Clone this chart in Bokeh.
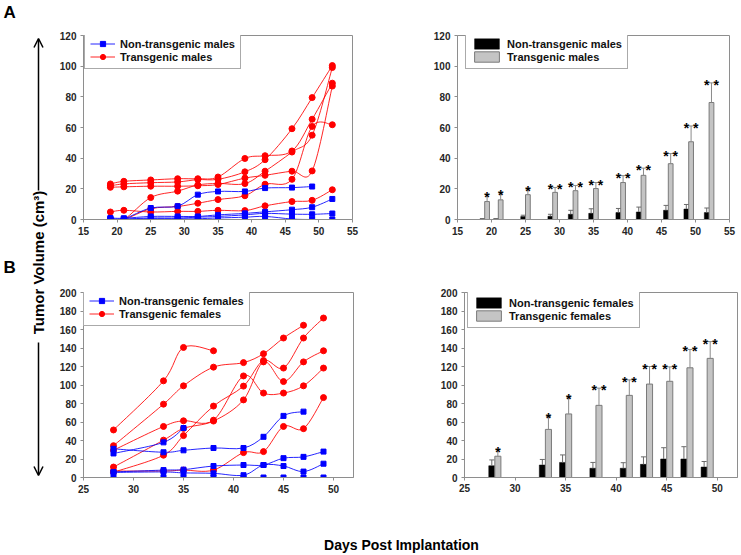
import math
from bokeh.plotting import figure
from bokeh.layouts import row, column
from bokeh.models import Range1d, Legend, LegendItem, Arrow, OpenHead, FixedTicker
from bokeh.embed import file_html
from bokeh.resources import INLINE
from bokeh.core.properties import value

FONT = "Liberation Sans"

# ---------------- data: males, individual tumours ----------------
male_days = [19, 21, 25, 29, 32, 35, 39, 42, 46, 49, 52]
male_tg_1 = [23.2, 24.9, 25.8, 26.6, 26.6, 27.7, 39.8, 41.6, 44.7, 65.4, 88.9]
male_tg_2 = [22.0, 23.2, 24.0, 24.5, 26.0, 26.2, 31.1, 39.0, 59.2, 79.5, 100.4]
male_tg_3 = [21.0, 21.3, 21.7, 21.7, 22.0, 22.8, 27.0, 28.8, 31.5, 31.7, 87.0]
male_tg_4 = [4.9, 6.0, 4.9, 5.3, 5.3, 6.0, 5.8, 8.9, 11.7, 12.5, 19.4]
male_tg_5 = [0.0, 0.0, 14.3, 18.5, 22.5, 23.5, 23.4, 31.5, 44.0, 55.0, 99.1]
male_tg_6 = [0.0, 0.0, 7.0, 8.5, 10.6, 13.0, 15.5, 23.0, 26.2, 60.7, 61.8]
male_nt_days_1 = [19, 21, 25, 29, 32, 35, 39, 42, 46, 49]
male_nt_1 = [0.5, 0.5, 7.5, 8.7, 16.2, 18.3, 18.3, 20.5, 20.8, 21.5]
male_nt_2 = [1.0, 0.8, 2.0, 2.0, 2.0, 3.0, 4.0, 5.0, 6.4, 8.0, 13.4]
male_nt_3 = [0.3, 0.3, 1.0, 1.0, 1.5, 2.0, 3.0, 4.0, 3.5, 3.4, 3.9]
male_nt_4 = [0.0, 0.0, 0.5, 0.5, 0.5, 1.0, 1.5, 2.0, 0.3, 0.0, 0.0]

# ---------------- data: males, group means ----------------
male_nt_mean = [0.4, 0.4, 1.9, 2.1, 3.4, 4.0, 4.5, 4.9, 6.0, 6.8, 4.5]
male_nt_err = [0.2, 0.2, 0.9, 1.3, 2.6, 3.0, 2.7, 3.2, 3.2, 3.0, 3.0]
male_tg_mean = [11.7, 12.8, 16.2, 17.7, 18.8, 20.2, 24.1, 28.8, 36.4, 50.7, 76.3]
male_tg_err = [4.5, 4.5, 3.6, 3.2, 3.4, 3.9, 4.5, 4.7, 6.6, 10.3, 12.8]
male_stars = ["*", "*", "*", "* *", "* *", "* *", "* *", "* *", "* *", "* *", "* *"]

# ---------------- data: females, individual tumours ----------------
fem_days = [28, 33, 35, 38, 41, 43, 45, 47, 49]
fem_tg_1 = [51.4, 104.5, 140.6, 137.0]
fem_tg_2 = [34.4, 79.3, 99.1, 119.3, 124.2, 133.8, 150.8, 164.6]
fem_tg_3 = [29.5, 55.2, 61.3, 62.0, 109.8, 91.3, 91.3, 99.1, 118.3]
fem_tg_4 = [11.3, 40.4, 53.1, 61.0, 83.9, 125.0, 103.7, 125.0, 137.0]
fem_tg_5 = [5.7, 24.1, 45.3, 77.2, 98.8, 126.5, 118.3, 150.8, 172.4]
fem_tg_6 = [7.0, 7.0, 8.0, 8.0, 26.9, 28.0, 55.2, 52.8, 86.4]
fem_nt_1 = [26.0, 38.0, 53.5]
fem_nt_2 = [31.0, 27.3, 29.4, 31.9, 31.9, 44.0, 66.6, 71.2]
fem_nt_3 = [6.0, 8.0, 8.5, 12.4, 13.5, 13.5, 20.9, 22.3, 28.0]
fem_nt_4 = [5.5, 6.0, 5.0, 4.5, 2.5, 13.5, 12.4, 6.4, 14.9]
fem_nt_5 = [0.0, 0.0, 0.0, 0.0, 0.0, 0.0, 0.0, 0.0, 0.0]

# ---------------- data: females, group means ----------------
fem_nt_mean = [12.7, 13.5, 16.3, 10.0, 10.0, 14.2, 20.0, 20.0, 11.3]
fem_nt_err = [6.3, 6.0, 8.1, 6.3, 6.0, 8.1, 12.2, 13.3, 6.0]
fem_tg_mean = [23.0, 52.0, 68.7, 78.0, 88.8, 101.0, 104.0, 118.6, 128.8]
fem_tg_err = [7.0, 14.0, 18.3, 18.6, 16.7, 19.0, 15.6, 19.8, 18.1]
fem_stars = ["*", "*", "*", "* *", "* *", "* *", "* *", "* *", "* *"]

# ---------------- axis ticks ----------------
male_xticks = [15, 20, 25, 30, 35, 40, 45, 50, 55]
male_yticks = [0, 20, 40, 60, 80, 100, 120]
fem_xticks = [25, 30, 35, 40, 45, 50]
fem_yticks = [0, 20, 40, 60, 80, 100, 120, 140, 160, 180, 200]

RED = "#ff0000"
BLUE = "#0000ff"
FRAME = "#8e8e8e"


def make_fig(w, h, bl, br, bt, bb, xr, yr, xt, yt):
    p = figure(width=w, height=h, x_range=Range1d(*xr), y_range=Range1d(*yr),
               toolbar_location=None, output_backend="svg",
               min_border_left=bl, min_border_right=br,
               min_border_top=bt, min_border_bottom=bb)
    p.xgrid.visible = False
    p.ygrid.visible = False
    p.outline_line_color = FRAME
    p.outline_line_width = 1
    p.background_fill_color = "white"
    p.border_fill_color = "white"
    p.xaxis.ticker = FixedTicker(ticks=xt)
    p.yaxis.ticker = FixedTicker(ticks=yt)
    for ax in (p.xaxis[0], p.yaxis[0]):
        ax.axis_line_color = FRAME
        ax.major_tick_line_color = FRAME
        ax.major_tick_in = 0
        ax.major_tick_out = 3
        ax.minor_tick_line_color = None
        ax.major_label_text_font = FONT
        ax.major_label_text_font_style = "bold"
        ax.major_label_text_font_size = "10px"
        ax.major_label_text_color = "#262626"
        ax.major_label_standoff = 4
    return p


def bez(xs, ys):
    n = len(xs)
    d = dict(x0=[], y0=[], x1=[], y1=[], cx0=[], cy0=[], cx1=[], cy1=[])
    for i in range(n - 1):
        xa, ya = (xs[i - 1], ys[i - 1]) if i > 0 else (xs[i], ys[i])
        xb, yb = xs[i], ys[i]
        xc, yc = xs[i + 1], ys[i + 1]
        xd, yd = (xs[i + 2], ys[i + 2]) if i + 2 < n else (xc, yc)
        d["x0"].append(xb); d["y0"].append(yb)
        d["x1"].append(xc); d["y1"].append(yc)
        d["cx0"].append(xb + (xc - xa) / 6.0); d["cy0"].append(yb + (yc - ya) / 6.0)
        d["cx1"].append(xc - (xd - xb) / 6.0); d["cy1"].append(yc - (yd - yb) / 6.0)
    return d


def series(p, xs, ys, color, marker, size):
    lr = p.bezier(line_color=color, line_width=1, line_alpha=0.85, **bez(xs, ys))
    sr = p.scatter(xs, ys, marker=marker, size=size, fill_color=color, line_color=color)
    return lr, sr


def legend(p, items, loc, glyph_w):
    lg = Legend(items=items, location=loc, padding=5, spacing=0, margin=0,
                label_height=13, glyph_height=13, glyph_width=glyph_w,
                label_standoff=5, label_text_font=FONT, label_text_font_style="bold",
                label_text_font_size="11px", label_text_color="#111111",
                border_line_color="#555555", border_line_width=1,
                background_fill_color="white", background_fill_alpha=1)
    p.add_layout(lg)


def bar_panel(p, days, nt_mean, nt_err, tg_mean, tg_err, stars, off, w, cap):
    xb = [d - off for d in days]
    xg = [d + off for d in days]
    rb = p.vbar(x=xb, top=nt_mean, width=w, fill_color="black", line_color="black", line_width=0.5)
    rg = p.vbar(x=xg, top=tg_mean, width=w, fill_color="#c4c4c4", line_color="#7a7a7a", line_width=1)
    nt_hi = [m + e for m, e in zip(nt_mean, nt_err)]
    tg_hi = [m + e for m, e in zip(tg_mean, tg_err)]
    p.segment(x0=xb, y0=nt_mean, x1=xb, y1=nt_hi, line_color="#6a6a6a", line_width=1)
    p.segment(x0=[x - cap for x in xb], y0=nt_hi, x1=[x + cap for x in xb], y1=nt_hi,
              line_color="#6a6a6a", line_width=1)
    p.segment(x0=xg, y0=tg_mean, x1=xg, y1=tg_hi, line_color="#8a8a8a", line_width=1)
    p.segment(x0=[x - cap for x in xg], y0=tg_hi, x1=[x + cap for x in xg], y1=tg_hi,
              line_color="#8a8a8a", line_width=1)
    p.text(x=xg, y=tg_hi, text=stars, text_align="center", text_baseline="alphabetic",
           y_offset=2, text_font=value(FONT), text_font_style="bold",
           text_font_size="14px", text_color="#000000")
    return rb, rg


# ---------------- panel A left: males, lines ----------------
pAL = make_fig(350, 250, 33, 48, 32, 31, (15, 55), (0, 120), male_xticks, male_yticks)
red_r = None
for tg in [male_tg_1, male_tg_2, male_tg_3, male_tg_4, male_tg_5, male_tg_6]:
    r = series(pAL, male_days, tg, RED, "circle", 6)
    red_r = red_r or r
blue_r = None
for xs, nt in [(male_nt_days_1, male_nt_1), (male_days, male_nt_2),
               (male_days, male_nt_3), (male_days, male_nt_4)]:
    r = series(pAL, xs, nt, BLUE, "square", 5)
    blue_r = blue_r or r
legend(pAL, [LegendItem(label="Non-transgenic males", renderers=list(blue_r)),
             LegendItem(label="Transgenic males", renderers=list(red_r))], (1, 150), 25)

# ---------------- panel A right: males, bars ----------------
pAR = make_fig(341, 250, 57, 12, 35, 27, (15, 55), (0, 120), male_xticks, male_yticks)
rb, rg = bar_panel(pAR, male_days, male_nt_mean, male_nt_err, male_tg_mean, male_tg_err,
                   male_stars, 0.35, 0.7, 0.35)
legend(pAR, [LegendItem(label="Non-transgenic males", renderers=[rb]),
             LegendItem(label="Transgenic males", renderers=[rg])], (8, 150), 31)

# ---------------- panel B left: females, lines ----------------
pBL = make_fig(350, 250, 33, 47, 38, 23, (25, 52), (0, 200), fem_xticks, fem_yticks)
red_r = None
for tg in [fem_tg_1, fem_tg_2, fem_tg_3, fem_tg_4, fem_tg_5, fem_tg_6]:
    r = series(pBL, fem_days[:len(tg)], tg, RED, "circle", 6)
    red_r = red_r or r
blue_r = None
for nt in [fem_nt_1, fem_nt_2, fem_nt_3, fem_nt_4, fem_nt_5]:
    r = series(pBL, fem_days[:len(nt)], nt, BLUE, "square", 5)
    blue_r = blue_r or r
legend(pBL, [LegendItem(label="Non-transgenic females", renderers=list(blue_r)),
             LegendItem(label="Transgenic females", renderers=list(red_r))], (0, 151), 25)

# ---------------- panel B right: females, bars ----------------
pBR = make_fig(341, 250, 64, 4, 42, 19, (25, 52), (0, 200), fem_xticks, fem_yticks)
pBR.xaxis.major_label_standoff = 3
rb, rg = bar_panel(pBR, fem_days, fem_nt_mean, fem_nt_err, fem_tg_mean, fem_tg_err,
                   fem_stars, 0.3, 0.6, 0.25)
legend(pBR, [LegendItem(label="Non-transgenic females", renderers=[rb]),
             LegendItem(label="Transgenic females", renderers=[rg])], (3, 149), 31)

# ---------------- left strip: panel letters, y label, arrows ----------------
strip = figure(width=50, height=500, x_range=Range1d(0, 50), y_range=Range1d(0, 500),
               toolbar_location=None, output_backend="svg", x_axis_type=None, y_axis_type=None,
               min_border_left=0, min_border_right=0, min_border_top=0, min_border_bottom=0)
strip.outline_line_color = None
strip.xgrid.visible = False
strip.ygrid.visible = False
strip.text(x=[3, 3], y=[498, 243], text=["A", "B"], text_align="left", text_baseline="top",
           text_font=value(FONT), text_font_style="bold", text_font_size="17px", text_color="black")
strip.text(x=[38], y=[238], text=["Tumor Volume (cm³)"], angle=math.pi / 2,
           text_align="center", text_baseline="middle", text_font=value(FONT),
           text_font_style="bold", text_font_size="15px", text_color="black")
strip.add_layout(Arrow(end=OpenHead(size=9, line_width=1.5, line_color="black"),
                       x_start=38, y_start=310, x_end=38, y_end=462,
                       line_width=1.5, line_color="black"))
strip.add_layout(Arrow(end=OpenHead(size=9, line_width=1.5, line_color="black"),
                       x_start=38, y_start=158, x_end=38, y_end=25,
                       line_width=1.5, line_color="black"))

# ---------------- bottom: x label ----------------
bottom = figure(width=741, height=55, x_range=Range1d(0, 741), y_range=Range1d(0, 55),
                toolbar_location=None, output_backend="svg", x_axis_type=None, y_axis_type=None,
                min_border_left=0, min_border_right=0, min_border_top=0, min_border_bottom=0)
bottom.outline_line_color = None
bottom.xgrid.visible = False
bottom.ygrid.visible = False
bottom.text(x=[401], y=[11], text=["Days Post Implantation"], text_align="center",
            text_baseline="middle", text_font=value(FONT), text_font_style="bold",
            text_font_size="14px", text_color="black")

layout = column(row(strip, column(row(pAL, pAR), row(pBL, pBR))), bottom)
open("out.html", "w").write(file_html(layout, INLINE))
